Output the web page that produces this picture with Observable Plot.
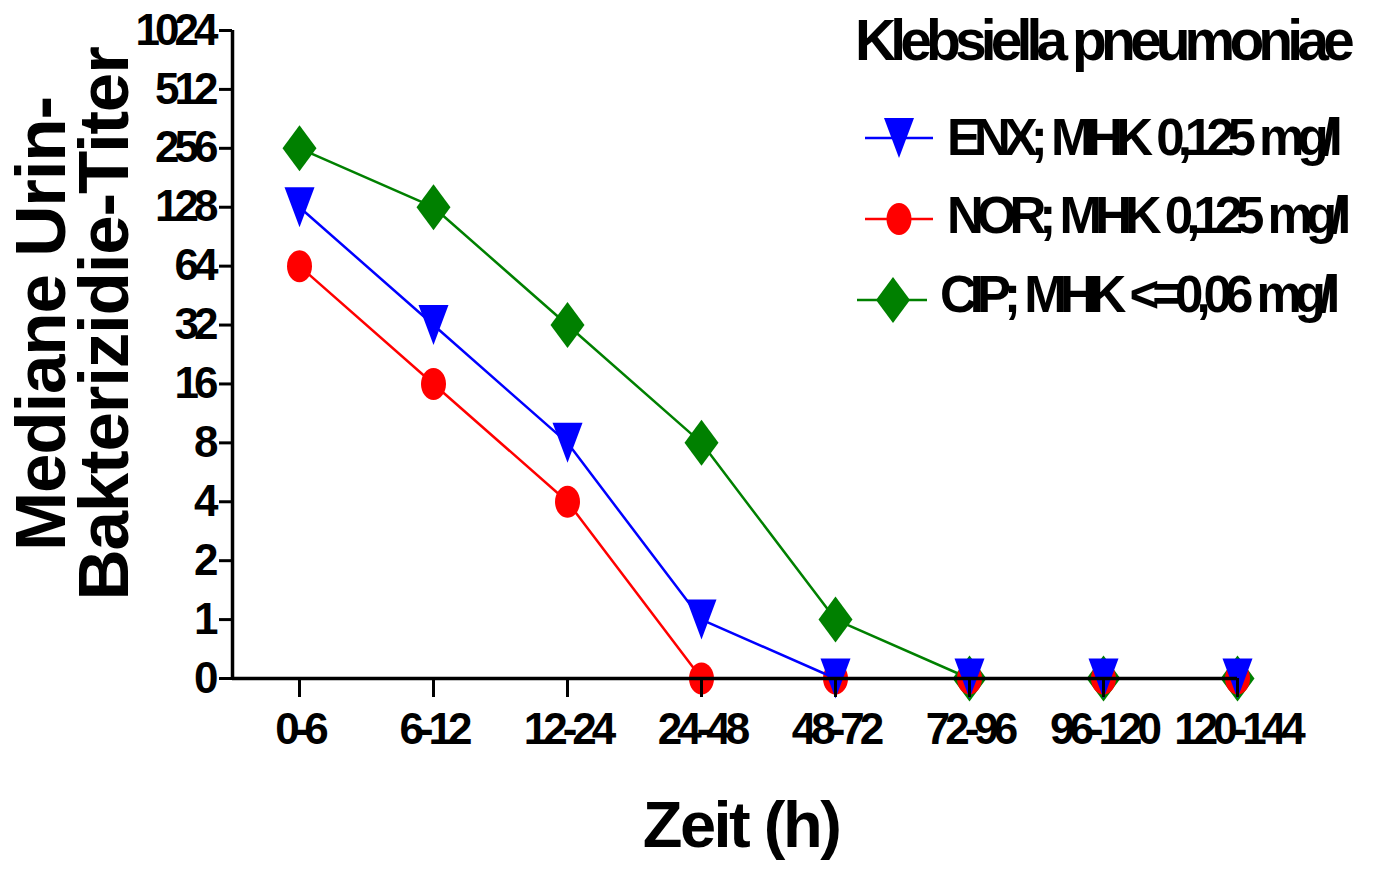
<!DOCTYPE html>
<html><head><meta charset="utf-8">
<script src="https://cdn.jsdelivr.net/npm/d3@7"></script>
<script src="https://cdn.jsdelivr.net/npm/@observablehq/plot@0.6"></script>
<style>
html,body{margin:0;padding:0;background:#fff;}
#chart svg text{font-family:"Liberation Sans",Arial,sans-serif;font-weight:bold;}
#chart svg g[aria-label="x-axis tick label"] text, #chart svg g[aria-label="y-axis tick label"] text{letter-spacing:-5px;}
</style></head><body><div id="chart"></div>
<script>
const timeCategories = ["0-6","6-12","12-24","24-48","48-72","72-96","96-120","120-144"];
const yTickLabels = ["0","1","2","4","8","16","32","64","128","256","512","1024"];
const enxValues = [128,32,8,1,0,0,0,0];
const norValues = [64,16,4,0,0,0,0,0];
const cipValues = [256,128,32,8,1,0,0,0];
const seriesNames = ["ENX; MHK 0,125 mg/l","NOR; MHK 0,125 mg/l","CIP; MHK <=0,06 mg/l"];
const seriesColors = ["#0000ff","#ff0000","#008000"];
const chartTitle = "Klebsiella pneumoniae";
const xTitle = "Zeit (h)";
const yTitleLines = ["Mediane Urin-","Bakterizidie-Titer"];

// titer -> position on the 0,1,2,4,... axis (0 sits one step below 1)
const level = v => v === 0 ? 0 : Math.log2(v) + 1;
const rows = vals => vals.map((v, i) => ({i, cat: timeCategories[i], titer: v, level: level(v)}));

// marker shapes
const triDown = {draw(c){ c.moveTo(-15,-20); c.lineTo(15,-20); c.lineTo(0,20); c.closePath(); }};
const diamond = {draw(c){ c.moveTo(0,-23); c.lineTo(17,0); c.lineTo(0,23); c.lineTo(-17,0); c.closePath(); }};
const ellipse = {draw(c){ const rx=12.5, ry=16, k=0.5523;
  c.moveTo(rx,0);
  c.bezierCurveTo(rx, ry*k, rx*k, ry, 0, ry);
  c.bezierCurveTo(-rx*k, ry, -rx, ry*k, -rx, 0);
  c.bezierCurveTo(-rx, -ry*k, -rx*k, -ry, 0, -ry);
  c.bezierCurveTo(rx*k, -ry, rx, -ry*k, rx, 0);
  c.closePath(); }};
const symbols = [triDown, ellipse, diamond];
const seriesValues = [enxValues, norValues, cipValues];

const xDomain = [-0.5, timeCategories.length - 1];
const yDomain = [0, yTickLabels.length - 1];

const seriesMarks = [];
for (const s of [2, 1, 0]) {
  const d = rows(seriesValues[s]);
  seriesMarks.push(Plot.line(d, {x: "i", y: "level", stroke: seriesColors[s], strokeWidth: 2.5}));
  seriesMarks.push(Plot.dot(d, {x: "i", y: "level", symbol: symbols[s], fill: seriesColors[s], stroke: "none", r: 10}));
}

const svg = Plot.plot({
  width: 1385,
  height: 870,
  marginLeft: 232,
  marginRight: 148,
  marginTop: 30,
  marginBottom: 192,
  style: {background: "#fff", color: "#000"},
  x: {type: "linear", domain: xDomain},
  y: {type: "linear", domain: yDomain},
  marks: [
    ...seriesMarks,
    Plot.ruleY([yDomain[0]], {stroke: "#000", strokeWidth: 3.5}),
    Plot.ruleX([xDomain[0]], {stroke: "#000", strokeWidth: 3.5}),
    Plot.axisY({ticks: d3.range(yTickLabels.length), tickFormat: i => yTickLabels[i], tickSize: 13, tickPadding: 6,
      strokeWidth: 3, fontSize: 44, fontWeight: "bold", label: null}),
    Plot.axisX({ticks: d3.range(timeCategories.length), tickFormat: i => timeCategories[i], tickSize: 19, tickPadding: 15,
      strokeWidth: 3, fontSize: 44, fontWeight: "bold", label: null})
  ]
});

const g = d3.select(svg).append("g").attr("fill", "#000").attr("text-anchor", "start");
// chart title
g.append("text").attr("x", 855).attr("y", 60).attr("text-anchor", "start")
  .style("font-size", "57px").style("letter-spacing", "-5.9px").text(chartTitle);
// x title
g.append("text").attr("x", 741).attr("y", 847).attr("text-anchor", "middle")
  .style("font-size", "65px").style("letter-spacing", "-2.5px").text(xTitle);
// y title
const yLineBase = [65, 128];
yTitleLines.forEach((t, k) => {
  g.append("text").attr("transform", `translate(${yLineBase[k]},324) rotate(-90)`).attr("text-anchor", "middle")
    .style("font-size", "71px").style("letter-spacing", "-1.2px").text(t);
});
// legend
const legRows = [
  {lineY: 138, x1: 865, x2: 933, mx: 899, tx: 947, ty: 155},
  {lineY: 219, x1: 865, x2: 933, mx: 899, tx: 947, ty: 233},
  {lineY: 300, x1: 857, x2: 927, mx: 893, tx: 940, ty: 312}
];
legRows.forEach((r, s) => {
  g.append("line").attr("x1", r.x1).attr("x2", r.x2).attr("y1", r.lineY).attr("y2", r.lineY)
    .attr("stroke", seriesColors[s]).attr("stroke-width", 2.5);
  g.append("path").attr("d", d3.symbol(symbols[s])()).attr("transform", `translate(${r.mx},${r.lineY})`)
    .attr("fill", seriesColors[s]);
  g.append("text").attr("x", r.tx).attr("y", r.ty).attr("text-anchor", "start")
    .style("font-size", "51px").style("letter-spacing", "-7px").style("word-spacing", "3px").text(seriesNames[s]);
});

document.getElementById("chart").appendChild(svg);
</script>
</body></html>
